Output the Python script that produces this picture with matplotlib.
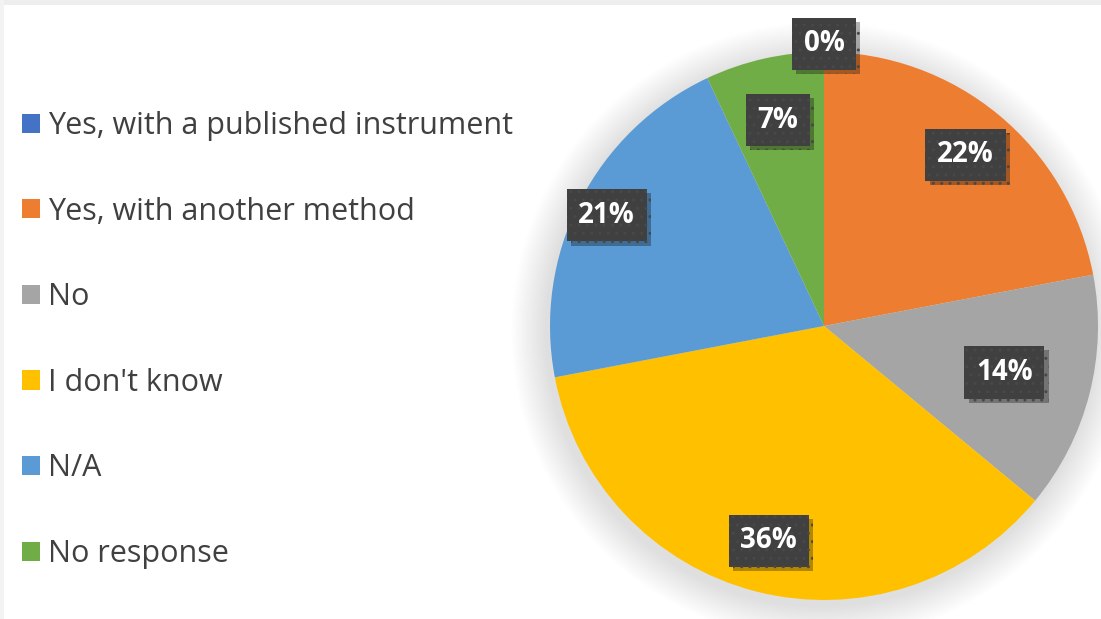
import matplotlib
matplotlib.use("Agg")
import matplotlib.pyplot as plt
import numpy as np
from matplotlib.patches import Patch, Circle, Rectangle
from matplotlib import patheffects as pe

categories = ["Yes, with a published instrument", "Yes, with another method", "No",
              "I don't know", "N/A", "No response"]
values = [0, 22, 14, 36, 21, 7]
colors = ["#4472C4", "#ED7D31", "#A5A5A5", "#FFC000", "#5B9BD5", "#70AD47"]
label_radius = [1.03, 0.81, 0.68, 0.81, 0.89, 0.77]

plt.rcParams['font.family'] = ['Open Sans', 'DejaVu Sans']

W, H = 1101, 619
fig = plt.figure(figsize=(W / 100, H / 100), dpi=100)
fig.patch.set_facecolor("white")

# top / left light frame strips
fig.add_artist(Rectangle((0, 1 - 5 / H), 1, 5 / H, transform=fig.transFigure,
                         facecolor="#eeeeee", edgecolor="none", zorder=0))
fig.add_artist(Rectangle((0, 0), 4 / W, 1, transform=fig.transFigure,
                         facecolor="#f3f3f3", edgecolor="none", zorder=0))

cx, cy, R = 824, 619 - 326, 274
ax = fig.add_axes([(cx - R) / W, (cy - R) / H, 2 * R / W, 2 * R / H])

# soft shadow
for i in range(16):
    r = 1.0 + 0.008 * (i + 1)
    ax.add_patch(Circle((-0.012, -0.02), r, facecolor="black", edgecolor="none",
                        alpha=0.008, zorder=0, clip_on=False))

wedges, _ = ax.pie(values, colors=colors, startangle=90, counterclock=False,
                   wedgeprops=dict(linewidth=0, zorder=2))
ax.set_xlim(-1, 1)
ax.set_ylim(-1, 1)
ax.set_aspect("equal")
ax.axis("off")

for w, v, rr in zip(wedges, values, label_radius):
    ang = np.deg2rad((w.theta1 + w.theta2) / 2)
    x, y = rr * np.cos(ang), rr * np.sin(ang)
    t = ax.text(x, y, f"{v}%", ha="center", va="center", fontsize=20,
                fontweight="bold", color="white", zorder=5,
                bbox=dict(boxstyle="square,pad=0.42", facecolor="#404040",
                          edgecolor="#484848", linewidth=0, hatch=".."))
    t.get_bbox_patch().set_path_effects([
        pe.SimplePatchShadow(offset=(3, -3), shadow_rgbFace="black", alpha=0.3),
        pe.Normal()])

handles = [Patch(facecolor=c, edgecolor="none") for c in colors]
leg = fig.legend(handles, categories, loc="upper left",
                 bbox_to_anchor=(22 / W, 1 - 111 / H), frameon=False,
                 fontsize=22, handlelength=0.59, handleheight=0.59,
                 handletextpad=0.26, labelspacing=1.82, borderpad=0,
                 borderaxespad=0)
for txt in leg.get_texts():
    txt.set_color("#404040")

fig.savefig("out.png", dpi=100, facecolor="white")
